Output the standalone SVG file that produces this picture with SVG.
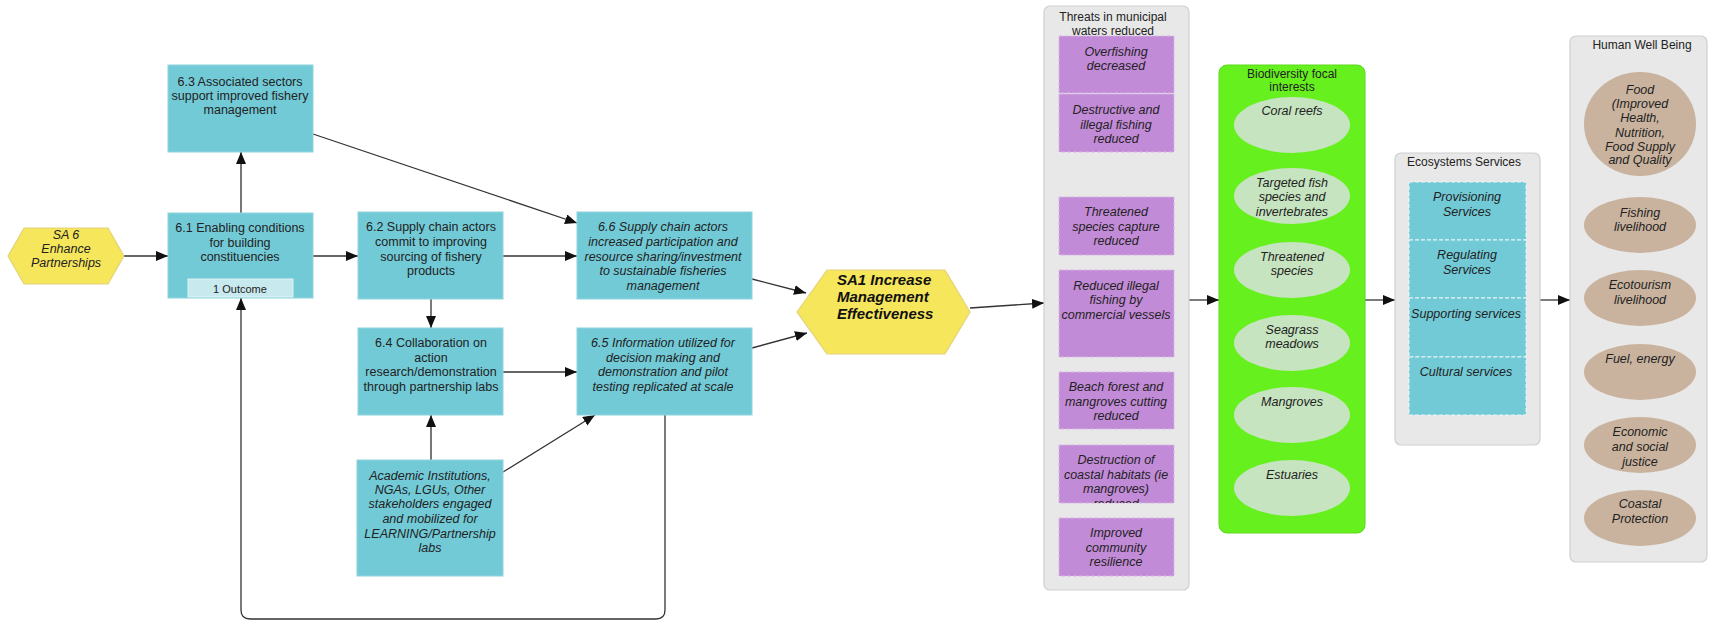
<svg xmlns="http://www.w3.org/2000/svg" width="1709" height="621" viewBox="0 0 1709 621">
<style>
text{font-family:"Liberation Sans",Arial,sans-serif;font-size:12.5px;fill:#222;text-anchor:middle}
.it{font-style:italic}
.ttl{font-size:12px}
.box{fill:#72cad7;stroke:#8fd4de;stroke-width:1}
.hex{fill:#f6e65c;stroke:#e3d27a;stroke-width:1.2}
.cont{fill:#e8e8e8;stroke:#cfcfcf;stroke-width:1.2}
.pur{fill:#c28bd8;stroke:#d7b5e3;stroke-width:1;stroke-dasharray:4 2}
.svc{fill:#72cad7;stroke:#e8f6f8;stroke-width:1;stroke-dasharray:4 2}
.bio{fill:#c6e4bf}
.hwb{fill:#c9b39e}
.c{fill:none;stroke:#333;stroke-width:1.3}
.g{fill:none;stroke:#777;stroke-width:2}
</style>
<defs>
<marker id="ah" markerUnits="userSpaceOnUse" markerWidth="12" markerHeight="10" refX="12" refY="5" orient="auto">
<path d="M0,0 L12,5 L0,10 z" fill="#111"/>
</marker>
<clipPath id="clipD"><rect x="1059" y="445" width="115" height="58"/></clipPath>
</defs>

<g id="connectors">
<path class="c" d="M124,256 L168,256" marker-end="url(#ah)"/>
<path class="g" d="M241,213 L241,152" marker-end="url(#ah)"/>
<path class="c" d="M313,256 L358,256" marker-end="url(#ah)"/>
<path class="c" d="M503,256 L577,256" marker-end="url(#ah)"/>
<path class="c" d="M431,299 L431,328" marker-end="url(#ah)"/>
<path class="c" d="M503,372 L577,372" marker-end="url(#ah)"/>
<path class="c" d="M313,134 L577,223" marker-end="url(#ah)"/>
<path class="g" d="M431,460 L431,415" marker-end="url(#ah)"/>
<path class="c" d="M503,472 L595,415" marker-end="url(#ah)"/>
<path class="c" d="M665,415 L665,610 Q665,619 656,619 L250,619 Q241,619 241,610 L241,298" marker-end="url(#ah)"/>
<path class="c" d="M752,279 L806,293" marker-end="url(#ah)"/>
<path class="c" d="M752,348 L807,333" marker-end="url(#ah)"/>
<path class="c" d="M970,308 L1044,303" marker-end="url(#ah)"/>
<path class="c" d="M1189,300 L1219,300" marker-end="url(#ah)"/>
<path class="c" d="M1365,300 L1395,300" marker-end="url(#ah)"/>
<path class="c" d="M1540,300 L1570,300" marker-end="url(#ah)"/>
</g>

<g id="sa6">
<polygon class="hex" points="8,256 24,228 108,228 124,256 108,284 24,284"/>
<text class="it"><tspan x="66" y="239">SA 6</tspan><tspan x="66" y="253">Enhance</tspan><tspan x="66" y="267">Partnerships</tspan></text>
</g>

<g id="n63">
<rect class="box" x="168" y="65" width="145" height="87"/>
<text><tspan x="240" y="86">6.3 Associated sectors</tspan><tspan x="240" y="100">support improved fishery</tspan><tspan x="240" y="114">management</tspan></text>
</g>

<g id="n61">
<rect class="box" x="168" y="213" width="145" height="85"/>
<text><tspan x="240" y="232">6.1 Enabling conditions</tspan><tspan x="240" y="247">for building</tspan><tspan x="240" y="261">constituencies</tspan></text>
<rect x="188" y="279" width="105" height="18" fill="#c8e9ee" stroke="#e0f2f5"/>
<text x="240" y="293" style="font-size:11px">1 Outcome</text>
</g>

<g id="n62">
<rect class="box" x="358" y="212" width="145" height="87"/>
<text><tspan x="431" y="231">6.2 Supply chain actors</tspan><tspan x="431" y="246">commit to improving</tspan><tspan x="431" y="261">sourcing of fishery</tspan><tspan x="431" y="275">products</tspan></text>
</g>

<g id="n66">
<rect class="box" x="577" y="212" width="175" height="87"/>
<text class="it"><tspan x="663" y="231">6.6 Supply chain actors</tspan><tspan x="663" y="246">increased participation and</tspan><tspan x="663" y="261">resource sharing/investment</tspan><tspan x="663" y="275">to sustainable fisheries</tspan><tspan x="663" y="290">management</tspan></text>
</g>

<g id="n64">
<rect class="box" x="358" y="328" width="145" height="87"/>
<text><tspan x="431" y="347">6.4 Collaboration on</tspan><tspan x="431" y="362">action</tspan><tspan x="431" y="376">research/demonstration</tspan><tspan x="431" y="391">through partnership labs</tspan></text>
</g>

<g id="n65">
<rect class="box" x="577" y="328" width="175" height="87"/>
<text class="it"><tspan x="663" y="347">6.5 Information utilized for</tspan><tspan x="663" y="362">decision making and</tspan><tspan x="663" y="376">demonstration and pilot</tspan><tspan x="663" y="391">testing replicated at scale</tspan></text>
</g>

<g id="academic">
<rect class="box" x="357" y="460" width="146" height="116"/>
<text class="it"><tspan x="430" y="480">Academic Institutions,</tspan><tspan x="430" y="494">NGAs, LGUs, Other</tspan><tspan x="430" y="508">stakeholders engaged</tspan><tspan x="430" y="523">and mobilized for</tspan><tspan x="430" y="538">LEARNING/Partnership</tspan><tspan x="430" y="552">labs</tspan></text>
</g>

<g id="sa1">
<polygon class="hex" points="797,312 827,270 945,270 970,312 945,354 827,354"/>
<text style="font-size:15px;font-weight:bold;font-style:italic;text-anchor:start;fill:#111"><tspan x="837" y="285">SA1 Increase</tspan><tspan x="837" y="302">Management</tspan><tspan x="837" y="319">Effectiveness</tspan></text>
</g>

<g id="threats">
<rect class="cont" x="1044" y="6" width="145" height="584" rx="6"/>
<text class="ttl"><tspan x="1113" y="21">Threats in municipal</tspan><tspan x="1113" y="35">waters reduced</tspan></text>
<rect class="pur" x="1059" y="36" width="115" height="57"/>
<text class="it"><tspan x="1116" y="56">Overfishing</tspan><tspan x="1116" y="70">decreased</tspan></text>
<rect class="pur" x="1059" y="94" width="115" height="58"/>
<text class="it"><tspan x="1116" y="114">Destructive and</tspan><tspan x="1116" y="129">illegal fishing</tspan><tspan x="1116" y="143">reduced</tspan></text>
<rect class="pur" x="1059" y="197" width="115" height="58"/>
<text class="it"><tspan x="1116" y="216">Threatened</tspan><tspan x="1116" y="231">species capture</tspan><tspan x="1116" y="245">reduced</tspan></text>
<rect class="pur" x="1059" y="270" width="115" height="87"/>
<text class="it"><tspan x="1116" y="290">Reduced illegal</tspan><tspan x="1116" y="304">fishing by</tspan><tspan x="1116" y="319">commercial vessels</tspan></text>
<rect class="pur" x="1059" y="372" width="115" height="57"/>
<text class="it"><tspan x="1116" y="391">Beach forest and</tspan><tspan x="1116" y="406">mangroves cutting</tspan><tspan x="1116" y="420">reduced</tspan></text>
<rect class="pur" x="1059" y="445" width="115" height="58"/>
<text class="it" clip-path="url(#clipD)"><tspan x="1116" y="464">Destruction of</tspan><tspan x="1116" y="479">coastal habitats (ie</tspan><tspan x="1116" y="493">mangroves)</tspan><tspan x="1116" y="508">reduced</tspan></text>
<rect class="pur" x="1059" y="518" width="115" height="58"/>
<text class="it"><tspan x="1116" y="537">Improved</tspan><tspan x="1116" y="552">community</tspan><tspan x="1116" y="566">resilience</tspan></text>
</g>

<g id="biodiversity">
<rect x="1219" y="65" width="146" height="468" rx="8" fill="#66f01e" stroke="#5cd91c"/>
<text class="ttl"><tspan x="1292" y="78">Biodiversity focal</tspan><tspan x="1292" y="91">interests</tspan></text>
<ellipse class="bio" cx="1292" cy="125" rx="58" ry="28"/>
<text class="it" x="1292" y="115">Coral reefs</text>
<ellipse class="bio" cx="1292" cy="196" rx="58" ry="28"/>
<text class="it"><tspan x="1292" y="187">Targeted fish</tspan><tspan x="1292" y="201">species and</tspan><tspan x="1292" y="216">invertebrates</tspan></text>
<ellipse class="bio" cx="1292" cy="270" rx="58" ry="28"/>
<text class="it"><tspan x="1292" y="261">Threatened</tspan><tspan x="1292" y="275">species</tspan></text>
<ellipse class="bio" cx="1292" cy="343" rx="58" ry="28"/>
<text class="it"><tspan x="1292" y="334">Seagrass</tspan><tspan x="1292" y="348">meadows</tspan></text>
<ellipse class="bio" cx="1292" cy="415" rx="58" ry="28"/>
<text class="it" x="1292" y="406">Mangroves</text>
<ellipse class="bio" cx="1292" cy="488" rx="58" ry="28"/>
<text class="it" x="1292" y="479">Estuaries</text>
</g>

<g id="ecosystems">
<rect class="cont" x="1395" y="153" width="145" height="292" rx="6"/>
<text class="ttl" x="1464" y="166">Ecosystems Services</text>
<rect class="svc" x="1409" y="182" width="117" height="58"/>
<text class="it"><tspan x="1467" y="201">Provisioning</tspan><tspan x="1467" y="216">Services</tspan></text>
<rect class="svc" x="1409" y="240" width="117" height="58"/>
<text class="it"><tspan x="1467" y="259">Regulating</tspan><tspan x="1467" y="274">Services</tspan></text>
<rect class="svc" x="1409" y="298" width="117" height="59"/>
<text class="it" x="1466" y="318">Supporting services</text>
<rect class="svc" x="1409" y="357" width="117" height="58"/>
<text class="it" x="1466" y="376">Cultural services</text>
</g>

<g id="wellbeing">
<rect class="cont" x="1570" y="36" width="137" height="526" rx="6"/>
<text class="ttl" x="1642" y="49">Human Well Being</text>
<ellipse class="hwb" cx="1640" cy="124" rx="56" ry="52"/>
<text class="it"><tspan x="1640" y="94">Food</tspan><tspan x="1640" y="108">(Improved</tspan><tspan x="1640" y="122">Health,</tspan><tspan x="1640" y="137">Nutrition,</tspan><tspan x="1640" y="151">Food Supply</tspan><tspan x="1640" y="164">and Quality</tspan></text>
<ellipse class="hwb" cx="1640" cy="225" rx="56" ry="28"/>
<text class="it"><tspan x="1640" y="217">Fishing</tspan><tspan x="1640" y="231">livelihood</tspan></text>
<ellipse class="hwb" cx="1640" cy="298" rx="56" ry="28"/>
<text class="it"><tspan x="1640" y="289">Ecotourism</tspan><tspan x="1640" y="304">livelihood</tspan></text>
<ellipse class="hwb" cx="1640" cy="372" rx="56" ry="28"/>
<text class="it" x="1640" y="363">Fuel, energy</text>
<ellipse class="hwb" cx="1640" cy="445" rx="56" ry="28"/>
<text class="it"><tspan x="1640" y="436">Economic</tspan><tspan x="1640" y="451">and social</tspan><tspan x="1640" y="466">justice</tspan></text>
<ellipse class="hwb" cx="1640" cy="518" rx="56" ry="28"/>
<text class="it"><tspan x="1640" y="508">Coastal</tspan><tspan x="1640" y="523">Protection</tspan></text>
</g>
</svg>
